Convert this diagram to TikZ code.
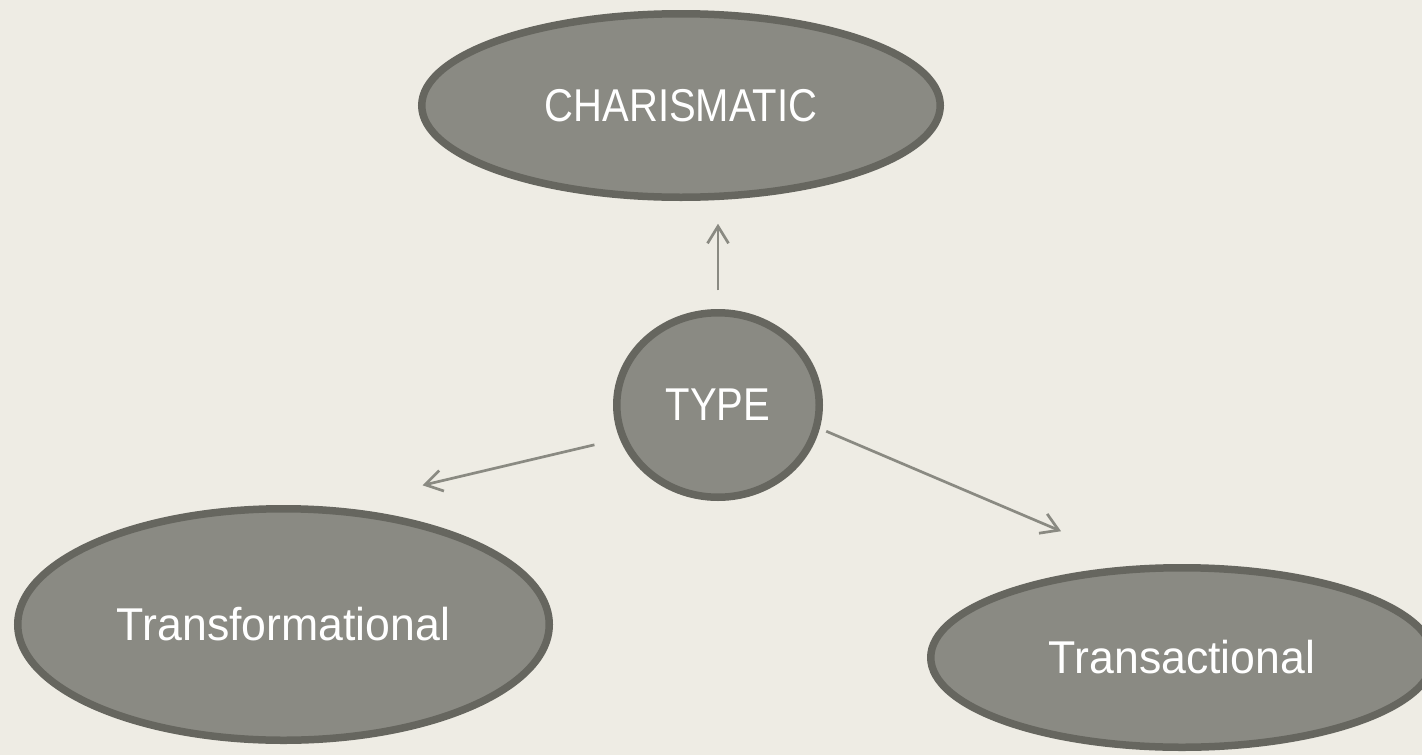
\documentclass[tikz,border=0pt]{standalone}
\usepackage{fontspec}
\setmainfont{Liberation Sans}[FakeStretch=0.97]
\newfontfamily\capsfont{Liberation Sans}[FakeStretch=0.87]
\usetikzlibrary{shapes.geometric,arrows.meta}

\definecolor{paper}{HTML}{EEECE4}
\definecolor{bubblefill}{HTML}{8A8A83}
\definecolor{bubbleline}{HTML}{66665F}
\definecolor{arrowgray}{HTML}{8A8A82}

\tikzset{
  bubble/.style={ellipse, draw=bubbleline, fill=bubblefill, line width=7.5pt,
    inner sep=0pt, text=white, font=\fontsize{46}{54}\selectfont},
  capsbubble/.style={bubble, font=\capsfont\fontsize{46}{54}\selectfont},
  link/.style={draw=arrowgray, line width=2.7pt,
    -{Straight Barb[length=17pt,width=21pt,line width=2.7pt]}}
}

\begin{document}
\begin{tikzpicture}[x=1pt,y=-1pt]
  \useasboundingbox (0,0) rectangle (1422,755);
  \fill[paper] (0,0) rectangle (1422,755);

  % the four bubbles
  \node[capsbubble, minimum width=518.5pt, minimum height=183.5pt] (charis) at (681,105.5) {CHARISMATIC};
  \node[capsbubble, minimum width=202.5pt, minimum height=184.5pt] (type) at (718,405) {TYPE};
  \node[bubble, minimum width=531.5pt, minimum height=231.5pt] (trf) at (283.5,624.5) {Transformational};
  \node[bubble, minimum width=502.5pt, minimum height=179.5pt] (trs) at (1182,657.5) {Transactional};

  % arrows from the centre bubble outwards
  \draw[link, shorten <=18.75pt, shorten >=22.75pt] (type.north) -- (type.north |- charis.south);
  \draw[link, shorten <=26pt, shorten >=94pt] (type.199.2) -- (trf.68.8);
  \draw[link, shorten <=7pt, shorten >=86.8pt] (type.347.9) -- (trs.114);
\end{tikzpicture}
\end{document}
